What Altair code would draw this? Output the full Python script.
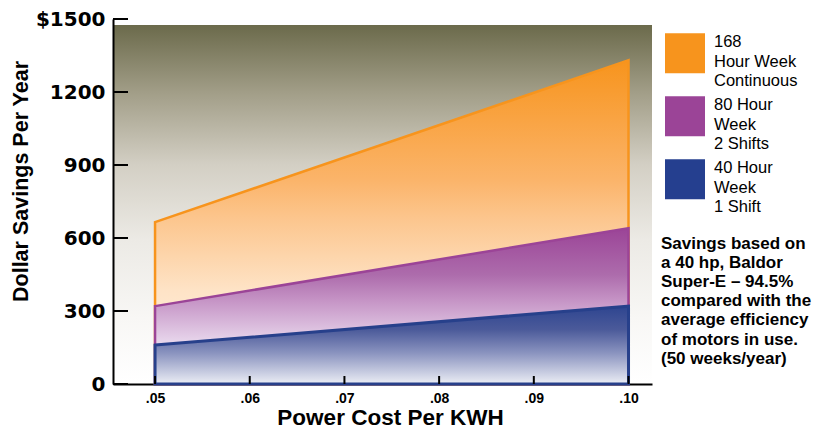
import altair as alt
import pandas as pd

FONT = "Liberation Sans"
WIDE = "DejaVu Sans"

# ---- data ----
cost = [0.05, 0.10]
hours168 = [665, 1330]
hours80 = [320, 640]
hours40 = [160, 320]

series_names = ["168|Hour Week|Continuous", "80 Hour|Week|2 Shifts", "40 Hour|Week|1 Shift"]
series_colors = ["#f7941d", "#9b4497", "#253f8f"]

y_ticks = [0, 300, 600, 900, 1200, 1500]
x_ticks = [0.05, 0.06, 0.07, 0.08, 0.09, 0.10]

note_lines = [
    "Savings based on",
    "a 40 hp, Baldor",
    "Super-E \u2013 94.5%",
    "compared with the",
    "average efficiency",
    "of motors in use.",
    "(50 weeks/year)",
]

# ---- tables ----
rows = []
for name, vals in zip(series_names, [hours168, hours80, hours40]):
    for c, v in zip(cost, vals):
        rows.append({"x": c, "y": v, "series": name})
df = pd.DataFrame(rows)
ytick_df = pd.DataFrame({"y": y_ticks})
xtick_df = pd.DataFrame({"x": x_ticks})
one = pd.DataFrame({"a": [0]})

W, H = 539, 365

xs = alt.Scale(domain=[0.04556, 0.10248], nice=False, zero=False)
ys = alt.Scale(domain=[0, 1500], nice=False, zero=True)

x_axis = alt.Axis(
    values=x_ticks,
    labelExpr="replace(format(datum.value, '.2f'), '0.', '.')",
    ticks=False, tickSize=0, grid=False,
    domainColor="black", domainWidth=2,
    labelFont=FONT, labelFontSize=14, labelFontWeight="bold", labelColor="black",
    labelPadding=7, labelBaseline="top", labelFlush=False, labelLineHeight=14,
    title="Power Cost Per KWH", titleFont=FONT, titleFontSize=22.5,
    titleFontWeight="bold", titleColor="black",
    titleX=277, titleY=40.5, titleBaseline="alphabetic", titleAlign="center",
    zindex=0,
)
y_axis = alt.Axis(
    values=y_ticks,
    labelExpr="datum.value == 1500 ? '$1500' : format(datum.value, 'd')",
    ticks=False, tickSize=0, grid=False,
    domainColor="black", domainWidth=2,
    labelFont=WIDE, labelFontSize=20, labelFontWeight="bold", labelColor="black",
    labelPadding=8, labelFlush=False, labelLineHeight=20,
    title="Dollar Savings Per Year", titleFont=FONT, titleFontSize=21.5,
    titleFontWeight="bold", titleColor="black",
    titleX=-92, titleY=162, titleAngle=270, titleBaseline="middle", titleAlign="center",
    zindex=1,
)


def grad(stops):
    return alt.Gradient(
        gradient="linear",
        stops=[alt.GradientStop(color=c, offset=o) for o, c in stops],
        x1=0, x2=0, y1=0, y2=1,
    )


bg_grad = grad([(0, "#6b6a4b"), (0.19, "#a29e88"), (0.39, "#d3cfc4"),
                (0.6, "#eceae5"), (0.82, "#f8f7f5"), (1, "#ffffff")])
fills = [
    grad([(0, "#f7941d"), (0.37, "#fbb46a"), (0.49, "#fcc68e"), (0.71, "#fee3c6"), (1, "#fff8f0")]),
    grad([(0, "#9b4497"), (0.3, "#ad6cac"), (0.46, "#c593c5"), (0.72, "#e6d3ea"), (1, "#f6eef8")]),
    grad([(0, "#2e4590"), (0.3, "#4b5a9a"), (0.6, "#8a93bf"), (1, "#eceef5")]),
]
strokes = ["#f7941d", "#9b4497", "#27408b"]
stroke_w = [2.5, 2.5, 3]

background = alt.Chart(one).mark_rect(fill=bg_grad).encode(
    x=alt.value(1), x2=alt.value(W), y=alt.value(6), y2=alt.value(H - 1)
)

areas = []
for name, f, s, sw in zip(series_names, fills, strokes, stroke_w):
    areas.append(
        alt.Chart(df)
        .transform_filter(alt.datum.series == name)
        .mark_area(fill=f, stroke=s, strokeWidth=sw)
        .encode(
            x=alt.X("x:Q", scale=xs, axis=x_axis),
            y=alt.Y("y:Q", scale=ys, axis=y_axis),
        )
    )

yticks = alt.Chart(ytick_df).mark_rule(color="black", strokeWidth=2).encode(
    y=alt.Y("y:Q", scale=ys, axis=y_axis), x=alt.value(0), x2=alt.value(15)
)
xticks = alt.Chart(xtick_df).mark_rule(color="black", strokeWidth=2).encode(
    x=alt.X("x:Q", scale=xs, axis=x_axis), y=alt.value(H), y2=alt.value(H - 8)
)

note = alt.Chart(one).mark_text(
    align="left", baseline="alphabetic", font=FONT, fontSize=17,
    fontWeight="bold", color="black", lineHeight=19.2,
).encode(x=alt.value(548), y=alt.value(229.5), text=alt.value(note_lines))

legend_layer = (
    alt.Chart(pd.DataFrame({"series": series_names}))
    .transform_filter("false")
    .mark_square(opacity=1, filled=True)
    .encode(
        color=alt.Color(
            "series:N",
            scale=alt.Scale(domain=series_names, range=series_colors),
            legend=alt.Legend(
                orient="none", legendX=552, legendY=8, title=None,
                symbolType="M-1,-0.69L1,-0.69L1,1.31L-1,1.31Z",
                symbolSize=1600, symbolStrokeWidth=0, symbolOpacity=1,
                labelExpr="split(datum.label, '|')",
                labelFont=FONT, labelFontSize=16.5, labelColor="black",
                labelBaseline="alphabetic", labelOffset=9, labelLimit=200,
                rowPadding=0, padding=0,
            ),
        )
    )
)

chart = (
    alt.layer(background, *areas, yticks, xticks, note, legend_layer)
    .properties(
        width=W, height=H,
        padding={"left": 105, "top": 11, "right": 165, "bottom": 45},
        autosize=alt.AutoSizeParams(type="none"),
        background="white",
    )
    .configure(style={"guide-label": {"lineHeight": 19.5}})
    .configure_view(stroke=None)
)

chart.save("out.html", embed_options={"renderer": "svg", "actions": False})
